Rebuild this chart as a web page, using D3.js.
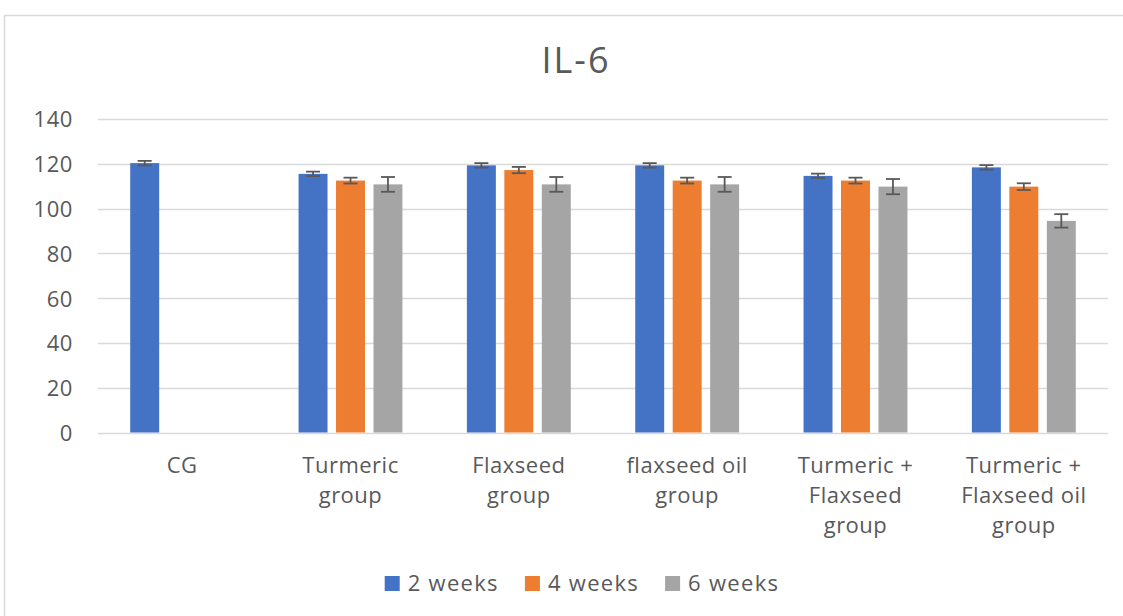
<!DOCTYPE html>
<html>
<head>
<meta charset="utf-8">
<script src="https://cdn.jsdelivr.net/npm/d3@7"></script>
<style>
  html, body { margin: 0; padding: 0; background: #fff; }
  svg { display: block; }
  text { font-family: "Open Sans", "Noto Sans", sans-serif; fill: #595959; }
</style>
</head>
<body>
<svg id="chart" width="1123" height="616"></svg>
<script>
// ---- data ----
const categories = ["CG", "Turmeric group", "Flaxseed group", "flaxseed oil group", "Turmeric + Flaxseed group", "Turmeric + Flaxseed oil group"];
const categoryLines = [["CG"], ["Turmeric", "group"], ["Flaxseed", "group"], ["flaxseed oil", "group"], ["Turmeric +", "Flaxseed", "group"], ["Turmeric +", "Flaxseed oil", "group"]];
const seriesNames = ["2 weeks", "4 weeks", "6 weeks"];
const week2 = [120.3, 115.5, 119.3, 119.3, 114.6, 118.4];
const week4 = [null, 112.5, 117.2, 112.5, 112.5, 109.8];
const week6 = [null, 110.8, 110.8, 110.8, 109.8, 94.5];
const err2 = [1.0, 1.0, 1.0, 1.0, 1.0, 1.0];
const err4 = [null, 1.3, 1.4, 1.3, 1.3, 1.5];
const err6 = [null, 3.3, 3.3, 3.3, 3.4, 3.0];
const yTicks = [0, 20, 40, 60, 80, 100, 120, 140];
const colors = ["#4472C4", "#ED7D31", "#A5A5A5"];
const title = "IL-6";

const values = [week2, week4, week6];
const errors = [err2, err4, err6];

const svg = d3.select("#chart");

// outer chart border
svg.append("rect")
  .attr("x", 4.5).attr("y", 15.5).attr("width", 1140).attr("height", 640)
  .attr("fill", "#fff").attr("stroke", "#d9d9d9").attr("stroke-width", 1.5);

const plot = { left: 98, right: 1108, top: 119, bottom: 432.5 };

const y = d3.scaleLinear().domain([0, 140]).range([plot.bottom, plot.top]);
const x0 = d3.scaleBand().domain(categories).range([plot.left, plot.right]).padding(0);
const x1 = d3.scaleBand().domain(seriesNames).range([0, x0.bandwidth()])
  .paddingInner(0.227).paddingOuter(0.86);

// title
svg.append("text")
  .attr("x", 576).attr("y", 73)
  .attr("text-anchor", "middle")
  .attr("font-size", 36)
  .attr("letter-spacing", 2)
  .text(title);

// gridlines
svg.append("g").selectAll("line").data(yTicks).join("line")
  .attr("x1", plot.left).attr("x2", plot.right)
  .attr("y1", d => Math.round(y(d)) + 0.5).attr("y2", d => Math.round(y(d)) + 0.5)
  .attr("stroke", "#d9d9d9").attr("stroke-width", 1.5);

// y axis labels
const yAxis = d3.axisLeft(y).tickValues(yTicks).tickSize(0).tickPadding(0);
const yg = svg.append("g").attr("transform", `translate(73,0)`).call(yAxis);
yg.select(".domain").remove();
yg.selectAll("text")
  .attr("font-size", 22)
  .attr("letter-spacing", 0.6)
  .attr("font-family", "'Open Sans', 'Noto Sans', sans-serif")
  .attr("fill", "#595959")
  .attr("dy", "0.36em");

// bars
const groups = svg.append("g").selectAll("g").data(categories).join("g")
  .attr("transform", d => `translate(${x0(d)},0)`);

groups.each(function(cat, ci) {
  const g = d3.select(this);
  seriesNames.forEach((s, si) => {
    const v = values[si][ci];
    if (v == null) return;
    const bx = x1(s), bw = x1.bandwidth();
    g.append("rect")
      .attr("x", bx).attr("width", bw)
      .attr("y", y(v)).attr("height", y(0) - y(v))
      .attr("fill", colors[si]);
    const e = errors[si][ci];
    const cx = bx + bw / 2;
    const cap = 7;
    g.append("line").attr("x1", cx).attr("x2", cx)
      .attr("y1", y(v + e)).attr("y2", y(v - e))
      .attr("stroke", "#595959").attr("stroke-width", 1.8);
    [v + e, v - e].forEach(t => {
      g.append("line").attr("x1", cx - cap).attr("x2", cx + cap)
        .attr("y1", y(t)).attr("y2", y(t))
        .attr("stroke", "#595959").attr("stroke-width", 1.8);
    });
  });
});

// x axis labels
const xl = svg.append("g").selectAll("text").data(categories).join("text")
  .attr("x", d => x0(d) + x0.bandwidth() / 2)
  .attr("y", 473)
  .attr("text-anchor", "middle")
  .attr("letter-spacing", 0.5)
  .attr("font-size", 22);
xl.each(function(d, i) {
  const t = d3.select(this);
  categoryLines[i].forEach((line, li) => {
    t.append("tspan").attr("x", x0(d) + x0.bandwidth() / 2)
      .attr("dy", li === 0 ? 0 : 30).text(line);
  });
});

// legend
const legend = svg.append("g");
const items = legend.selectAll("g").data(seriesNames).join("g");
items.append("rect").attr("width", 15).attr("height", 15).attr("y", 576)
  .attr("fill", (d, i) => colors[i]);
items.append("text").attr("x", 23).attr("y", 591).attr("font-size", 22)
  .attr("letter-spacing", 1.3).text(d => d);
let widths = [];
items.each(function() { widths.push(this.getBBox().width); });
const gap = 26;
const total = d3.sum(widths) + gap * (widths.length - 1);
let cx = 582 - total / 2;
items.each(function(d, i) {
  d3.select(this).attr("transform", `translate(${cx},0)`);
  cx += widths[i] + gap;
});
</script>
</body>
</html>
